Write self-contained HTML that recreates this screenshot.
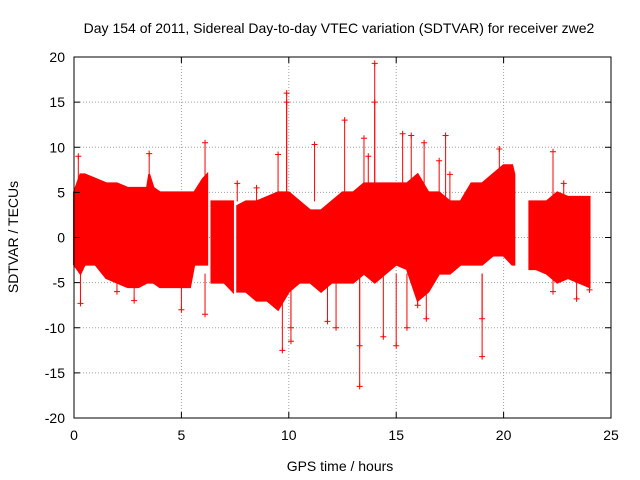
<!DOCTYPE html>
<html><head><meta charset="utf-8"><style>
body{margin:0;background:#fff}
svg{display:block;font-family:"Liberation Sans",sans-serif}
</style></head><body>
<svg id="chart" width="640" height="480" viewBox="0 0 640 480" xmlns="http://www.w3.org/2000/svg">
<rect width="640" height="480" fill="#fff"/>
<text x="339" y="33" font-size="14" text-anchor="middle">Day 154 of 2011, Sidereal Day-to-day VTEC variation (SDTVAR) for receiver zwe2</text>
<text x="340" y="471" font-size="14" text-anchor="middle">GPS time / hours</text>
<text x="18" y="237" font-size="14" text-anchor="middle" transform="rotate(-90 18 237)">SDTVAR / TECUs</text>
<g id="grid"></g><g id="data"></g><g id="axes"></g>
</svg>
<script>
const xTicks=[0,5,10,15,20,25];
const yTicks=[-20,-15,-10,-5,0,5,10,15,20];
const bandTime=[0,0.3,0.5,1,1.5,2,2.5,3,3.4,3.5,3.7,4,4.5,5,5.4,5.6,6,6.2,null,6.4,7,7.4,null,7.6,8,8.5,9,9.5,10,10.5,11,11.5,12,12.5,13,13.5,14,14.5,15,15.5,16,16.5,17,17.5,18,18.5,19,19.5,20,20.4,20.5,null,21.2,21.5,22,22.5,23,23.5,24];
const bandUpper=[5,7,7,6.5,6,6,5.5,5.5,5.5,7,5.5,5,5,5,5,5,6.5,7,null,4,4,4,null,3.5,4,4,4.5,5,5,4,3,3,4,5,5,6,6,6,6,6,7,5,5,4,4,6,6,7,8,8,7,null,4,4,4,5,4.5,4.5,4.5];
const bandLower=[-3,-4,-3,-3,-4.5,-5,-5.5,-5.5,-5,-5,-5,-5.5,-5.5,-5.5,-5.5,-3,-3,-3,null,-5,-5,-6,null,-6,-6,-7,-7,-8,-6,-5,-5,-6,-5,-5,-5,-4,-5,-4,-3,-3.5,-7,-6,-4,-4,-3,-3,-3,-2,-2,-3,-3,null,-3.5,-3.5,-4,-5,-4.5,-5,-5.5];
const outT=[0.3,0.2,2,2.8,3.5,5,6.1,6.1,7.6,8.5,9.5,9.7,9.9,9.9,10.1,10.1,11.2,11.8,12.2,12.6,13.3,13.3,13.5,14,14,13.7,14.4,15,15.3,15.7,15.5,16.3,16.4,16,17,17.3,17.5,19,19,19.8,22.3,22.3,22.8,23.4,24];
const outV=[-7.3,9,-6,-7,9.3,-8,10.5,-8.5,6,5.5,9.2,-12.5,16,15,-11.5,-10,10.3,-9.3,-10,13,-16.5,-12,11,19.3,15,9,-11,-12,11.5,11.3,-10,10.5,-9,-7.5,8.5,11.3,7,-9,-13.2,9.8,9.5,-6,6,-6.8,-5.8];
const X0=74,X1=611,Y0=418,Y1=57;
const xs=t=>X0+(t-0)/(25-0)*(X1-X0);
const ys=v=>Y0-(v+20)/40*(Y0-Y1);
const NS="http://www.w3.org/2000/svg";
function mk(tag,attrs,parent){const e=document.createElementNS(NS,tag);for(const k in attrs)e.setAttribute(k,attrs[k]);parent.appendChild(e);return e;}
const grid=document.getElementById('grid'),data=document.getElementById('data'),axes=document.getElementById('axes');
xTicks.forEach(t=>{
 if(t>0&&t<25){const g=mk('line',{x1:xs(t),x2:xs(t),y1:Y1,y2:Y0,stroke:'#a0a0a0','stroke-dasharray':'1,2'},grid);
 
 }
 mk('line',{x1:xs(t),x2:xs(t),y1:Y0,y2:Y0-6,stroke:'#000'},axes);
 mk('line',{x1:xs(t),x2:xs(t),y1:Y1,y2:Y1+6,stroke:'#000'},axes);
 const l=mk('text',{x:xs(t),y:Y0+22,'font-size':14,'text-anchor':'middle'},axes);l.textContent=t;
 
 
});
yTicks.forEach(v=>{
 if(v>-20&&v<20){const g=mk('line',{x1:X0,x2:X1,y1:ys(v),y2:ys(v),stroke:'#a0a0a0','stroke-dasharray':'1,2'},grid);
 
 }
 mk('line',{x1:X0,x2:X0+6,y1:ys(v),y2:ys(v),stroke:'#000'},axes);
 mk('line',{x1:X1,x2:X1-6,y1:ys(v),y2:ys(v),stroke:'#000'},axes);
 const l=mk('text',{x:X0-9,y:ys(v)+5,'font-size':14,'text-anchor':'end'},axes);l.textContent=v;
 
 
});
const fr=mk('rect',{x:X0,y:Y1,width:X1-X0,height:Y0-Y1,fill:'none',stroke:'#000'},axes);


// band segments
let seg=[];
function flush(){
 if(seg.length>1){
  let pts=seg.map(i=>xs(bandTime[i])+','+ys(bandUpper[i]));
  pts=pts.concat(seg.slice().reverse().map(i=>xs(bandTime[i])+','+ys(bandLower[i])));
  const p=mk('polygon',{points:pts.join(' '),fill:'#ff0000',stroke:'#ff0000','stroke-width':2},data);
  
  
 }
 seg=[];
}
bandTime.forEach((t,i)=>{if(t===null)flush();else seg.push(i);});
flush();
outT.forEach((t,i)=>{
 const v=outV[i];const x=xs(t),y=ys(v);const y0=ys(v>0?4:-4);
 const ln=mk('line',{x1:x,x2:x,y1:y0,y2:y,stroke:'#ff0000'},data);
 
 
 const m=mk('path',{d:`M${x-3},${y}H${x+3}M${x},${y-3}V${y+3}`,stroke:'#ff0000'},data);
 
 
});
</script>
</body></html>
